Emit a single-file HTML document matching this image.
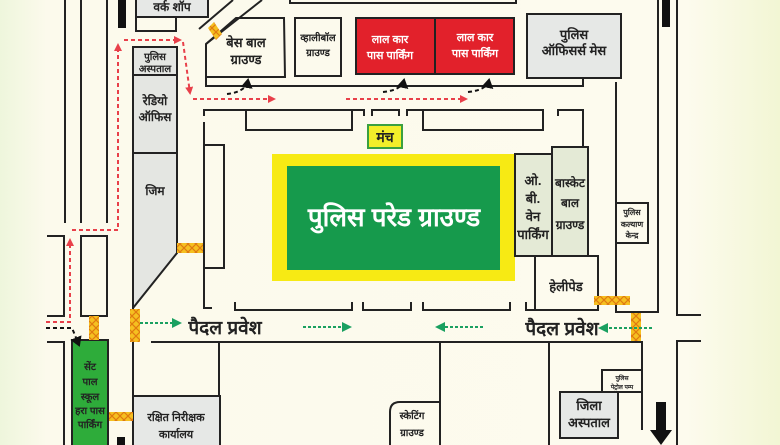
<!DOCTYPE html>
<html><head><meta charset="utf-8"><style>
html,body{margin:0;padding:0;width:780px;height:445px;overflow:hidden}
body{background:linear-gradient(90deg,#eef6dc 0%,#fcfaec 6%,#fdfbee 88%,#f2f6d4 100%)}
svg{display:block}
text{font-family:"Liberation Sans","Noto Sans CJK SC",sans-serif;font-weight:bold;fill:#222;text-anchor:middle}
</style></head><body>
<svg width="780" height="445" viewBox="0 0 780 445" xmlns="http://www.w3.org/2000/svg">
<defs>
<pattern id="xx" width="8" height="8" patternUnits="userSpaceOnUse">
<rect width="8" height="8" fill="#f5c020"/>
<path d="M0 0L8 8M8 0L0 8" stroke="#e07a10" stroke-width="1.2"/>
</pattern>
<marker id="ar" markerWidth="8" markerHeight="8" refX="6" refY="4" orient="auto" markerUnits="userSpaceOnUse"><path d="M0 0L8 4L0 8Z" fill="#e8404a"/></marker>
<marker id="ag" markerWidth="10" markerHeight="10" refX="8" refY="5" orient="auto" markerUnits="userSpaceOnUse"><path d="M0 0L10 5L0 10Z" fill="#1aa060"/></marker>
<marker id="ab" markerWidth="10" markerHeight="12" refX="8" refY="6" orient="auto" markerUnits="userSpaceOnUse"><path d="M0 0L10 6L0 12Z" fill="#111"/></marker>
</defs>
<g stroke="#222" stroke-width="2" fill="none">
<path d="M65 0V223M81 0V223M107 0V223"/>
<rect x="81" y="236" width="26" height="80"/>
<path d="M47 236H64V316H47"/>
<path d="M47 342H64V445"/>
<rect x="136" y="-2" width="72" height="19" fill="#e6e8e6"/>
<path d="M136 17V31H176V17"/>
<path d="M199 29L233 0M206 44L262 0"/>
<path d="M206 44L236 18H284L285 77H206Z"/>
<path d="M206 77V86H583V78"/>
<rect x="295" y="18" width="46" height="58"/>
<rect x="356" y="18" width="79" height="56" fill="#e2212b"/>
<rect x="435" y="18" width="79" height="56" fill="#e2212b"/>
<rect x="527" y="14" width="94" height="64" fill="#e6e8e6"/>
<path d="M290 -2V3H516V-2"/>
<path d="M616 82V312H658V0"/>
<path d="M677 0V315H701M701 341H677V445"/>
<rect x="616" y="203" width="32" height="40"/>
<path d="M133 47H177V253L133 308Z" fill="#e4e6e2"/>
<rect x="133" y="47" width="44" height="28" fill="#e4e6e2"/>
<path d="M133 75H177M133 153H177"/>
<path d="M133 308V397"/>
<path d="M204 116V110H364V116M372 116V110H399V116M407 116V110H543"/>
<rect x="246" y="110" width="106" height="20"/>
<rect x="423" y="110" width="120" height="20"/>
<path d="M558 116V110H583V147"/>
<path d="M204 122V308H212"/>
<rect x="204" y="145" width="20" height="123"/>
<path d="M235 302V310H352V302M363 302V310H411V302M423 302V310H510V302M526 302V310H536"/>
<path d="M151 342H642V430"/>
<path d="M219 342V445M440 342V445M549 342V445"/>
<path d="M440 402H400Q390 402 390 412V445"/>
</g>
<rect x="118" y="0" width="8" height="28" fill="#111"/>
<rect x="662" y="0" width="8" height="27" fill="#111"/>
<rect x="117" y="437" width="8" height="8" fill="#111"/>
<path d="M656 402H666V430H672L661 445L650 430H656Z" fill="#111"/>
<rect x="272" y="154" width="243" height="127" fill="#f7ea14"/>
<rect x="287" y="166" width="213" height="104" fill="#169a4c"/>
<text x="394" y="226" font-size="26" style="fill:#fff">पुलिस परेड ग्राउण्ड</text>
<rect x="368" y="125" width="34" height="23" fill="#f3ee2a" stroke="#3aa040" stroke-width="2"/>
<text x="385" y="142" font-size="14">मंच</text>
<g stroke="#222" stroke-width="2">
<rect x="515" y="154" width="37" height="102" fill="#e4ead6"/>
<rect x="552" y="147" width="36" height="109" fill="#e4ead6"/>
<rect x="535" y="256" width="63" height="54" fill="#fdfbee"/>
<rect x="602" y="370" width="40" height="22" fill="#fdfbee"/>
<rect x="560" y="392" width="58" height="46" fill="#e6e8e6"/>
<rect x="133" y="396" width="87" height="52" fill="#e6e8e6"/>
<rect x="72" y="340" width="36" height="108" fill="#2eac3a"/>
</g>
<g stroke="none" fill="url(#xx)">
<path d="M208 28L214 22L222 34L216 40Z"/>
<rect x="177" y="243" width="26" height="10"/>
<rect x="89" y="316" width="10" height="24"/>
<rect x="130" y="309" width="10" height="33"/>
<rect x="109" y="412" width="24" height="9"/>
<rect x="594" y="296" width="36" height="9"/>
<rect x="631" y="313" width="10" height="28"/>
</g>
<g stroke="#e8404a" stroke-width="2" stroke-dasharray="4 3" fill="none">
<path d="M46 322H70V240" marker-end="url(#ar)"/>
<path d="M72 230H118V45" marker-end="url(#ar)"/>
<path d="M124 40H180" marker-end="url(#ar)"/>
<path d="M183 42L190 93" marker-end="url(#ar)"/>
<path d="M193 99H274" marker-end="url(#ar)"/>
<path d="M346 99H466" marker-end="url(#ar)"/>
</g>
<g stroke="#111" stroke-width="2" stroke-dasharray="4 3" fill="none">
<path d="M227 94Q246 92 248 80" marker-end="url(#ab)"/>
<path d="M383 92Q402 90 404 80" marker-end="url(#ab)"/>
<path d="M468 92Q487 90 489 80" marker-end="url(#ab)"/>
<path d="M46 328H72L79 345" marker-end="url(#ab)"/>
</g>
<g stroke="#1aa060" stroke-width="2" stroke-dasharray="3 2" fill="none">
<path d="M140 323H180" marker-end="url(#ag)"/>
<path d="M303 327H350" marker-end="url(#ag)"/>
<path d="M483 327H437" marker-end="url(#ag)"/>
<path d="M652 328H600" marker-end="url(#ag)"/>
</g>
<text x="225" y="334" font-size="19">पैदल प्रवेश</text>
<text x="562" y="335" font-size="19">पैदल प्रवेश</text>
<g font-size="12">
<text x="172" y="11">वर्क शॉप</text>
<text x="246" y="47" font-size="13">बेस बाल</text>
<text x="246" y="64" font-size="13">ग्राउण्ड</text>
<text x="318" y="41" font-size="10">व्हालीबॉल</text>
<text x="318" y="56" font-size="10">ग्राउण्ड</text>
<text x="390" y="43" style="fill:#fff" font-size="11">लाल कार</text>
<text x="390" y="59" style="fill:#fff" font-size="11">पास पार्किंग</text>
<text x="475" y="41" style="fill:#fff" font-size="11">लाल कार</text>
<text x="475" y="57" style="fill:#fff" font-size="11">पास पार्किंग</text>
<text x="574" y="39" font-size="13">पुलिस</text>
<text x="574" y="55" font-size="13">ऑफिसर्स मेस</text>
<text x="155" y="60" font-size="10">पुलिस</text>
<text x="155" y="72" font-size="10">अस्पताल</text>
<text x="155" y="105">रेडियो</text>
<text x="155" y="121">ऑफिस</text>
<text x="155" y="195">जिम</text>
<text x="533" y="185" font-size="13">ओ.</text>
<text x="533" y="203" font-size="13">बी.</text>
<text x="533" y="221" font-size="13">वेन</text>
<text x="533" y="239" font-size="13">पार्किंग</text>
<text x="570" y="187">बास्केट</text>
<text x="570" y="207">बाल</text>
<text x="570" y="229">ग्राउण्ड</text>
<text x="632" y="215" font-size="8">पुलिस</text>
<text x="632" y="227" font-size="8">कल्याण</text>
<text x="632" y="238" font-size="8">केन्द्र</text>
<text x="566" y="291" font-size="13">हेलीपेड</text>
<text x="622" y="380" font-size="6">पुलिस</text>
<text x="622" y="389" font-size="6">पेट्रोल पम्प</text>
<text x="589" y="410" font-size="13">जिला</text>
<text x="589" y="427" font-size="13">अस्पताल</text>
<text x="176" y="421" font-size="11">रक्षित निरीक्षक</text>
<text x="176" y="438" font-size="11">कार्यालय</text>
<text x="412" y="419" font-size="10">स्केटिंग</text>
<text x="412" y="436" font-size="10">ग्राउण्ड</text>
<g style="fill:#e8f5e0" font-size="10">
<text x="90" y="370">सेंट</text>
<text x="90" y="385">पाल</text>
<text x="90" y="400">स्कूल</text>
<text x="90" y="414">हरा पास</text>
<text x="90" y="428">पार्किंग</text>
</g>
</g>
</svg>
</body></html>
